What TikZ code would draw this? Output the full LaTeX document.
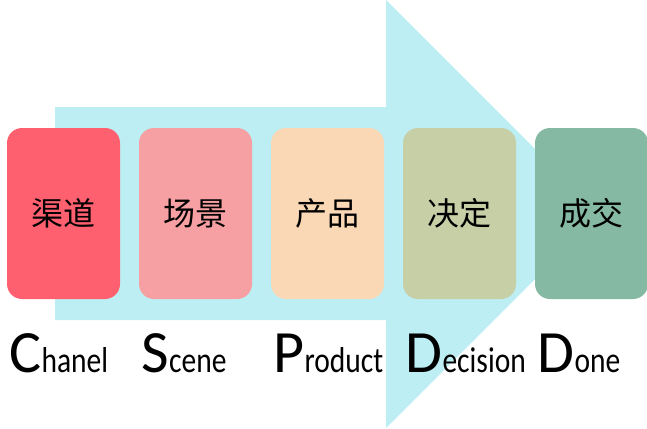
\documentclass[tikz,border=0pt]{standalone}
\usepackage{fontspec}
\setmainfont{Carlito}
\newfontfamily\cjk{Noto Sans CJK SC}
\newfontfamily\narrowfont[FakeStretch=0.82]{Carlito}
\definecolor{arrowblue}{HTML}{BCEEF3}
\definecolor{chanelred}{HTML}{FF6070}
\definecolor{scenepink}{HTML}{F7A0A3}
\definecolor{productpeach}{HTML}{FAD7B5}
\definecolor{decisionolive}{HTML}{C7CFA6}
\definecolor{donegreen}{HTML}{85B9A4}

\begin{document}
\begin{tikzpicture}[x=1pt, y=-1pt,
  stage/.style={rounded corners=15pt, minimum width=113pt, minimum height=171pt,
    inner sep=0pt, font=\cjk\fontsize{32}{32}\selectfont},
  initial/.style={anchor=base west, inner sep=0pt, font=\fontsize{60}{60}\selectfont},
  rest/.style={anchor=base west, inner sep=0pt, font=\narrowfont\fontsize{36}{36}\selectfont}]
  \useasboundingbox (0,0) rectangle (647,428);

  % big arrow
  \fill[arrowblue] (55,107) -- (386,107) -- (386,0) -- (600,214)
    -- (386,428) -- (386,320) -- (55,320) -- cycle;

  % stages and their names
  \foreach \n/\x/\col/\txt/\ini/\rst in {
      chanel/7/chanelred/渠道/C/hanel,
      scene/139/scenepink/场景/S/cene,
      product/271/productpeach/产品/P/roduct,
      decision/403/decisionolive/决定/D/ecision,
      done/535/donegreen/成交/D/one} {
    \node[stage, fill=\col] (\n) at (\x+56.5,213.5) {\txt};
    \node[initial] (\n-ini) at (\x+2,372) {\ini};
    \node[rest] (\n-rst) at (\n-ini.base east) {\rst};
  }
\end{tikzpicture}
\end{document}
